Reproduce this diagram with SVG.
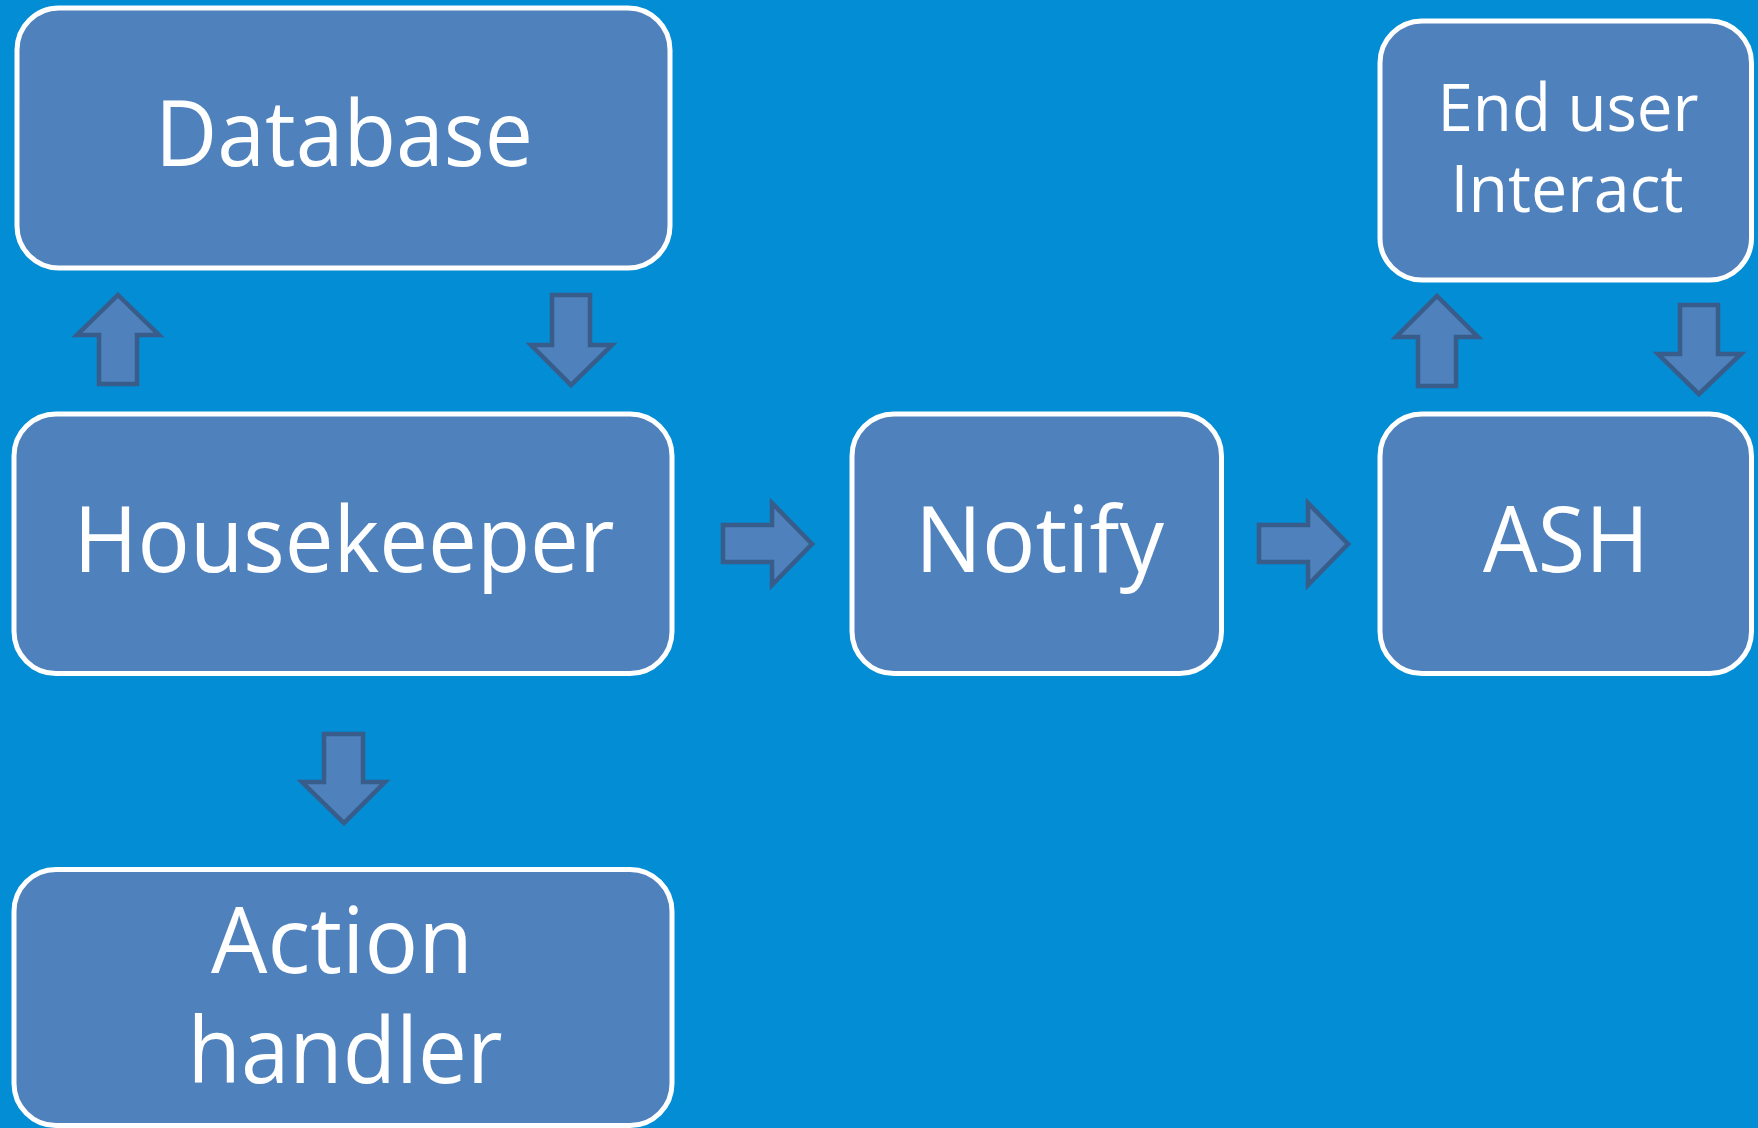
<svg xmlns="http://www.w3.org/2000/svg" width="1758" height="1128" viewBox="0 0 1758 1128">
<style>
.box{fill:#4F81BD;stroke:#FFFFFF;stroke-width:5}
.arr{fill:#4F81BD;stroke:#385D8A;stroke-width:4.5;stroke-linejoin:miter}
.lbl{fill:#FFFFFF;font-family:"Open Sans","Noto Sans","Liberation Sans",sans-serif;text-anchor:middle}
.big{font-size:91px}
.small{font-size:66px}
</style>
<rect width="1758" height="1128" fill="#038DD5"/>
<g id="connectors">
<polygon class="arr" points="118,295 159,335 137,335 137,384 99,384 99,335 77,335"/>
<polygon class="arr" points="552,295 590,295 590,345 612,345 571,385 531,345 552,345"/>
<polygon class="arr" points="324,734 363,734 363,782 385,782 344,823 302,782 324,782"/>
<polygon class="arr" points="723,525 772,525 772,503 812,544 772,585 772,562 723,562"/>
<polygon class="arr" points="1259,525 1308,525 1308,503 1348,544 1308,585 1308,562 1259,562"/>
<polygon class="arr" points="1437,296 1478,337 1456,337 1456,386 1418,386 1418,337 1396,337"/>
<polygon class="arr" points="1680,305 1718,305 1718,354 1741,354 1699,394 1658,354 1680,354"/>
</g>
<g id="database">
<rect class="box" x="17" y="8" width="653" height="260" rx="42" ry="42"/>
<text class="lbl big" x="344" y="166" textLength="378" lengthAdjust="spacingAndGlyphs">Database</text>
</g>
<g id="housekeeper">
<rect class="box" x="14" y="414" width="658" height="259.5" rx="42" ry="42"/>
<text class="lbl big" x="344" y="572" textLength="541" lengthAdjust="spacingAndGlyphs">Housekeeper</text>
</g>
<g id="action-handler">
<rect class="box" x="14" y="869.5" width="658" height="256" rx="42" ry="42"/>
<text class="lbl big" x="342" y="973" textLength="262" lengthAdjust="spacingAndGlyphs">Action</text>
<text class="lbl big" x="345" y="1083" textLength="315" lengthAdjust="spacingAndGlyphs">handler</text>
</g>
<g id="notify">
<rect class="box" x="852" y="414" width="369.5" height="259.5" rx="42" ry="42"/>
<text class="lbl big" x="1039.5" y="572" textLength="249" lengthAdjust="spacingAndGlyphs">Notify</text>
</g>
<g id="ash">
<rect class="box" x="1380" y="414" width="371.5" height="259.5" rx="42" ry="42"/>
<text class="lbl big" x="1566" y="572" textLength="166" lengthAdjust="spacingAndGlyphs">ASH</text>
</g>
<g id="end-user-interact">
<rect class="box" x="1380" y="21" width="371.5" height="259" rx="42" ry="42"/>
<text class="lbl small" x="1568" y="131" textLength="261" lengthAdjust="spacingAndGlyphs">End user</text>
<text class="lbl small" x="1567" y="212" textLength="233" lengthAdjust="spacingAndGlyphs">Interact</text>
</g>
</svg>
